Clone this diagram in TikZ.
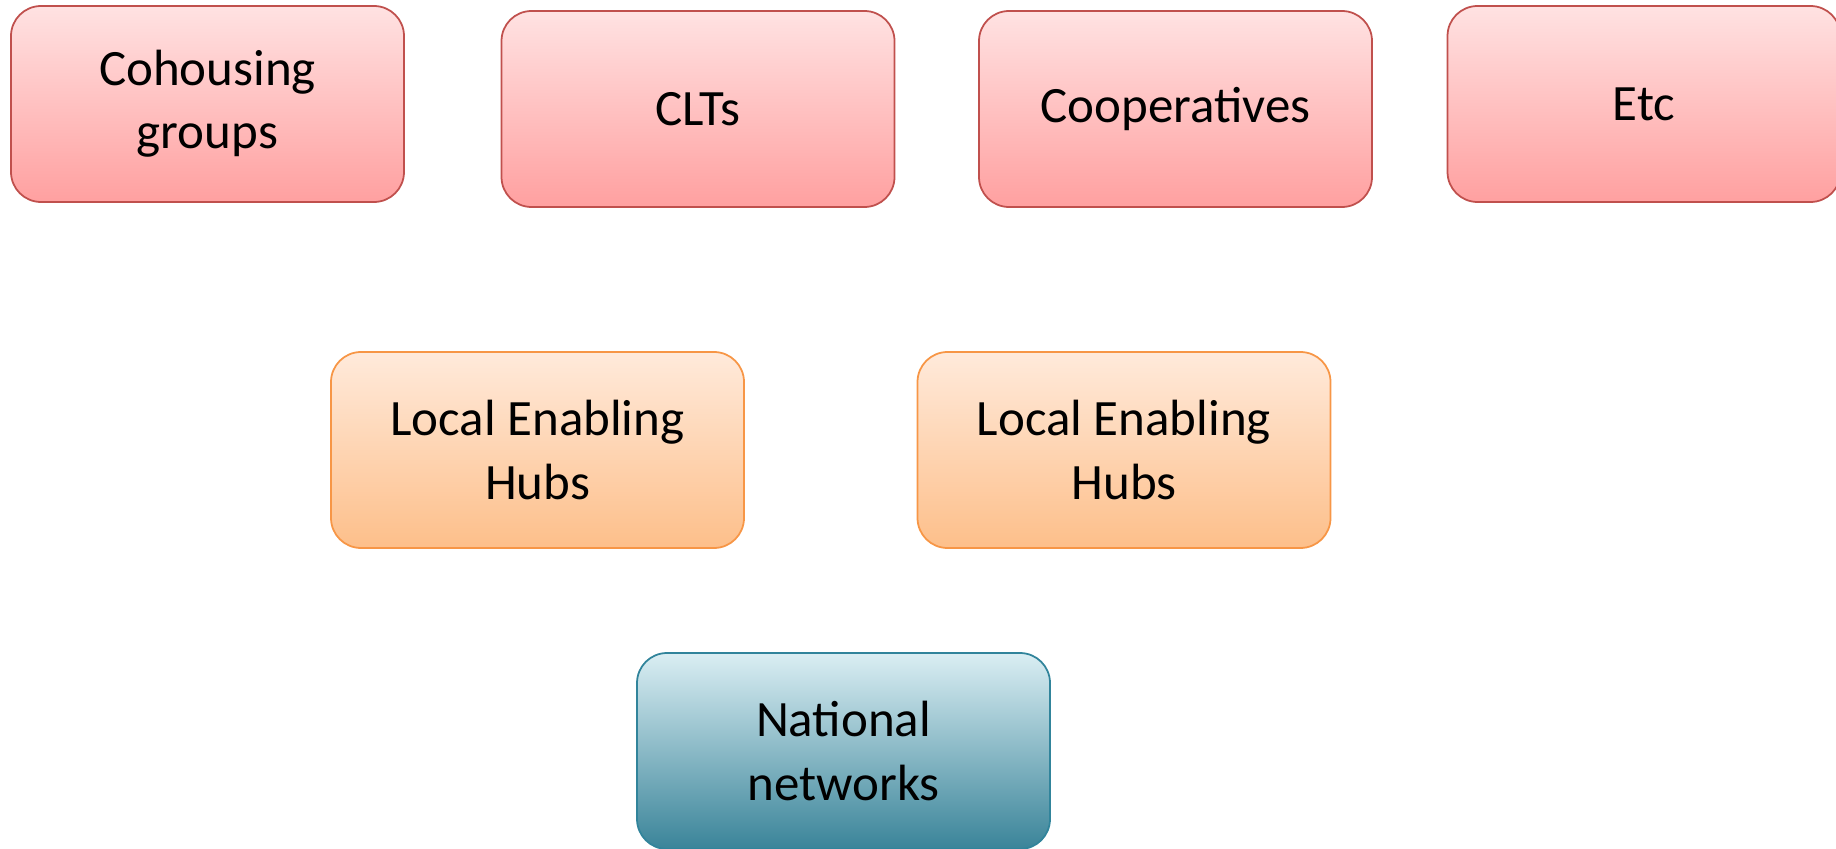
\documentclass[tikz,border=0pt]{standalone}
\usepackage{fontspec}
\setmainfont{Carlito}
\usepackage{tikz}
\usetikzlibrary{shadings}
\definecolor{rougebord}{HTML}{C0504D}
\definecolor{rougehaut}{HTML}{FFE2E2}
\definecolor{rougebas}{HTML}{FFA0A0}
\definecolor{orangebord}{HTML}{F79646}
\definecolor{orangehaut}{HTML}{FFEADB}
\definecolor{orangebas}{HTML}{FDBF8A}
\definecolor{bleubord}{HTML}{31849B}
\definecolor{bleuhaut}{HTML}{DAEEF3}
\definecolor{bleumilieu}{HTML}{A3D3E0}
\definecolor{bleubas}{HTML}{3A8499}
\tikzstyle{boite} = [rounded corners=0.6cm,line width=1pt,align=center,
	minimum width=7.86cm,minimum height=3.92cm,font=\fontsize{29}{36}\selectfont]
\tikzstyle{groupe} = [boite,draw=rougebord,top color=rougehaut,bottom color=rougebas]
\tikzstyle{hub} = [boite,draw=orangebord,minimum width=8.26cm,
	top color=orangehaut,bottom color=orangebas]
\tikzstyle{reseau} = [boite,draw=bleubord,minimum width=8.26cm,
	top color=bleuhaut,middle color=bleumilieu,bottom color=bleubas]

\begin{document}
\begin{tikzpicture}
	\useasboundingbox (0,0) rectangle (36.72,16.96);

	\node[groupe] (cohab) at (4.15,14.88) {Cohousing\\groups};
	\node[groupe] (clt) at (13.96,14.78) {CLTs};
	\node[groupe] (coop) at (23.51,14.78) {Cooperatives};
	\node[groupe] (etc) at (32.88,14.88) {Etc};

	\node[hub] (hubA) at (10.75,7.96) {Local Enabling\\Hubs};
	\node[hub] (hubB) at (22.48,7.96) {Local Enabling\\Hubs};

	\node[reseau] (nat) at (16.87,1.94) {National\\networks};

\end{tikzpicture}
\end{document}
